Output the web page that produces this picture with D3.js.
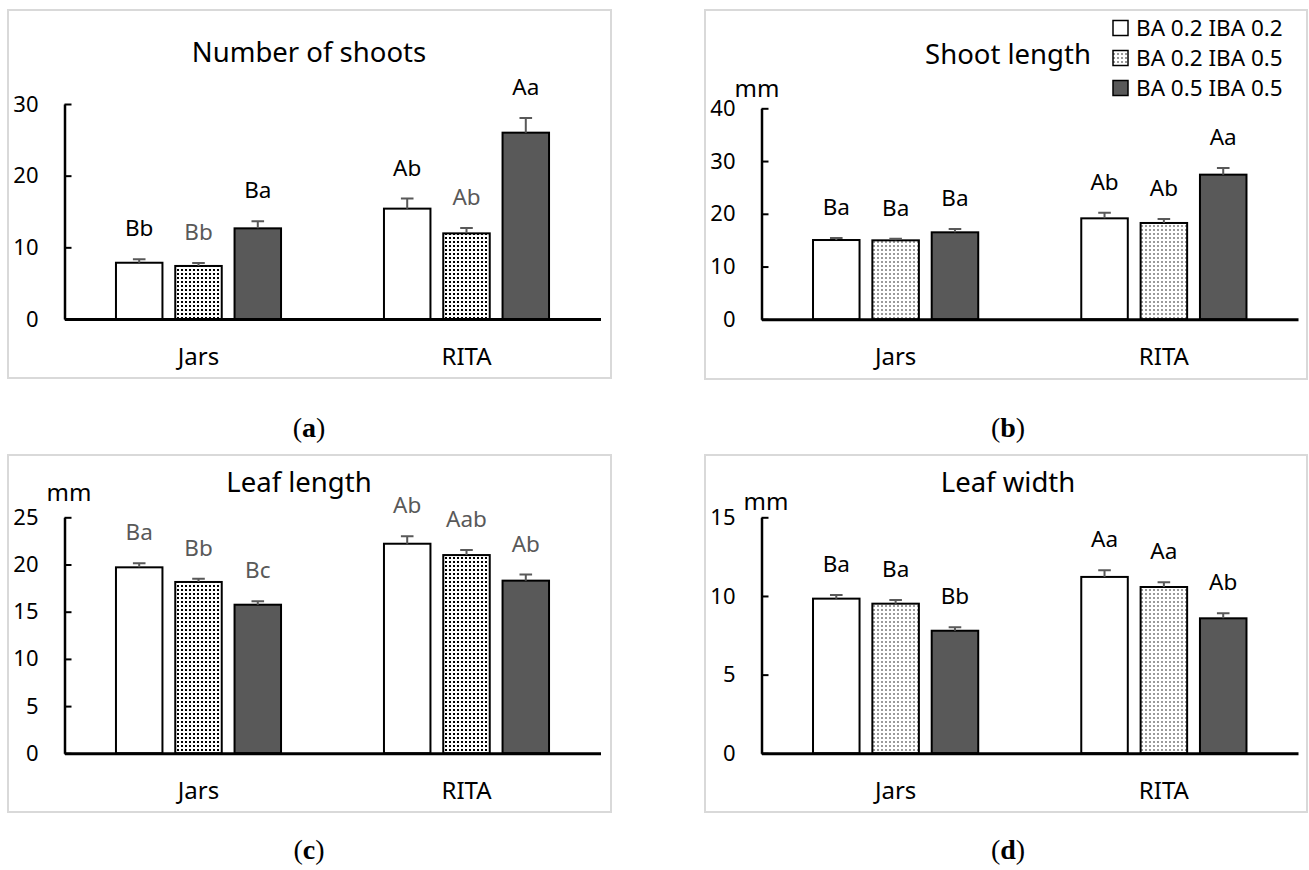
<!DOCTYPE html>
<html>
<head>
<meta charset="utf-8">
<script src="https://cdn.jsdelivr.net/npm/d3@7"></script>
<style>
  body { margin: 0; background: #fff; }
  svg { display: block; font-family: 'Noto Sans', sans-serif; }
</style>
</head>
<body>
<svg id="chart" width="1309" height="870"></svg>
<script>
// categories
const sites = ["Jars", "RITA"];
const treatments = ["BA 0.2 IBA 0.2", "BA 0.2 IBA 0.5", "BA 0.5 IBA 0.5"];

// (a) number of shoots  [site][treatment]
const shootNumMean = [[7.85, 7.4, 12.65], [15.4, 11.95, 26.0]];
const shootNumErr = [[0.5, 0.4, 0.98], [1.4, 0.75, 2.05]];
const shootNumLetters = [["Bb", "Bb", "Ba"], ["Ab", "Ab", "Aa"]];
const shootNumTicks = [0, 10, 20, 30];

// (b) shoot length, mm
const shootLenMean = [[15.03, 14.97, 16.49], [19.14, 18.26, 27.42]];
const shootLenErr = [[0.38, 0.32, 0.63], [1.08, 0.76, 1.26]];
const shootLenLetters = [["Ba", "Ba", "Ba"], ["Ab", "Ab", "Aa"]];
const shootLenTicks = [0, 10, 20, 30, 40];

// (c) leaf length, mm
const leafLenMean = [[19.7, 18.15, 15.74], [22.2, 21.0, 18.29]];
const leafLenErr = [[0.42, 0.35, 0.36], [0.78, 0.53, 0.64]];
const leafLenLetters = [["Ba", "Bb", "Bc"], ["Ab", "Aab", "Ab"]];
const leafLenTicks = [0, 5, 10, 15, 20, 25];

// (d) leaf width, mm
const leafWidMean = [[9.83, 9.51, 7.79], [11.21, 10.57, 8.58]];
const leafWidErr = [[0.23, 0.24, 0.22], [0.42, 0.3, 0.32]];
const leafWidLetters = [["Ba", "Ba", "Bb"], ["Aa", "Aa", "Ab"]];
const leafWidTicks = [0, 5, 10, 15];

const GRAY = "#595959";

const svg = d3.select("#chart");
const defs = svg.append("defs");

// coarse black dots (a, c) and fine grey dots (b, d)
function dotPattern(id, size, dot, color) {
  const p = defs.append("pattern")
    .attr("id", id)
    .attr("patternUnits", "userSpaceOnUse")
    .attr("width", size).attr("height", size);
  p.append("rect").attr("width", size).attr("height", size).attr("fill", "#fff");
  p.append("rect").attr("x", 1).attr("y", 1)
    .attr("width", dot).attr("height", dot).attr("fill", color);
}
dotPattern("dotsDark", 4, 2, "#000");
dotPattern("dotsLight", 4, 2, "#9a9a9a");

const panels = [
  { tag: "a", title: "Number of shoots", mean: shootNumMean, err: shootNumErr, letters: shootNumLetters,
    ticks: shootNumTicks, max: 30, box: [8, 10, 603, 368], left: 64.5, right: 600.5, top: 104, zero: 319,
    titleXY: [309, 62], mm: null, pattern: "dotsDark", caption: [309, 437],
    letterFill: (i, j) => j === 1 ? GRAY : "#000" },
  { tag: "b", title: "Shoot length", mean: shootLenMean, err: shootLenErr, letters: shootLenLetters,
    ticks: shootLenTicks, max: 40, box: [705, 10, 602, 369], left: 761.5, right: 1298, top: 108.3, zero: 319.3,
    titleXY: [1008, 64], mm: [757, 96.5], pattern: "dotsLight", caption: [1008, 437],
    letterFill: () => "#000" },
  { tag: "c", title: "Leaf length", mean: leafLenMean, err: leafLenErr, letters: leafLenLetters,
    ticks: leafLenTicks, max: 25, box: [8, 455, 603, 357], left: 64.5, right: 600.5, top: 517.3, zero: 753.3,
    titleXY: [299, 492], mm: [69, 500.5], pattern: "dotsDark", caption: [309, 859],
    letterFill: () => GRAY },
  { tag: "d", title: "Leaf width", mean: leafWidMean, err: leafWidErr, letters: leafWidLetters,
    ticks: leafWidTicks, max: 15, box: [705, 455, 602, 357], left: 761.5, right: 1298, top: 517.3, zero: 753.3,
    titleXY: [1008, 492], mm: [766, 510], pattern: "dotsLight", caption: [1008, 859],
    letterFill: () => "#000" }
];

panels.forEach(p => {
  const g = svg.append("g");
  const fills = ["#fff", `url(#${p.pattern})`, GRAY];

  g.append("rect")
    .attr("x", p.box[0]).attr("y", p.box[1])
    .attr("width", p.box[2]).attr("height", p.box[3])
    .attr("fill", "none").attr("stroke", "#d9d9d9").attr("stroke-width", 2);

  const x0 = d3.scaleBand().domain(sites).range([p.left, p.right]);
  const x1 = d3.scaleBand().domain(treatments).range([0, x0.bandwidth()])
    .paddingInner(0.216).paddingOuter(0.868);
  const y = d3.scaleLinear().domain([0, p.max]).range([p.zero, p.top]);

  const rows = sites.flatMap((s, i) => treatments.map((t, j) => ({
    s, t, i, j, m: p.mean[i][j], e: p.err[i][j], l: p.letters[i][j]
  })));
  const cx = d => x0(d.s) + x1(d.t) + x1.bandwidth() / 2;

  g.selectAll(".bar").data(rows).enter().append("rect")
    .attr("x", d => x0(d.s) + x1(d.t))
    .attr("y", d => y(d.m))
    .attr("width", x1.bandwidth())
    .attr("height", d => y(0) - y(d.m))
    .attr("fill", d => fills[d.j])
    .attr("stroke", "#000").attr("stroke-width", 2);

  // error bars, upward only
  g.selectAll(".err").data(rows).enter().append("path")
    .attr("d", d => `M${cx(d)},${y(d.m)}V${y(d.m + d.e)}M${cx(d) - 6.3},${y(d.m + d.e)}H${cx(d) + 6.3}`)
    .attr("fill", "none").attr("stroke", GRAY).attr("stroke-width", 2);

  g.selectAll(".lab").data(rows).enter().append("text")
    .attr("x", cx)
    .attr("y", d => y(d.m + d.e) - 23)
    .attr("text-anchor", "middle")
    .attr("font-size", 22.5)
    .attr("fill", d => p.letterFill(d.i, d.j))
    .text(d => d.l);

  const ya = g.append("g").attr("transform", `translate(${p.left},0)`)
    .call(d3.axisLeft(y).tickValues(p.ticks).tickSizeInner(-7).tickSizeOuter(0).tickPadding(26));
  ya.attr("font-family", null).attr("font-size", 22);
  ya.select(".domain").attr("stroke", "#000").attr("stroke-width", 2.5);
  ya.selectAll(".tick line").attr("stroke", "#000").attr("stroke-width", 2);
  ya.selectAll(".tick text").attr("fill", "#000");

  const xa = g.append("g").attr("transform", `translate(0,${p.zero})`)
    .call(d3.axisBottom(x0).tickSize(0).tickSizeOuter(0).tickPadding(29));
  xa.attr("font-family", null).attr("font-size", 24);
  xa.select(".domain").attr("stroke", "#000").attr("stroke-width", 3);
  xa.selectAll(".tick text").attr("fill", "#000");

  g.append("text")
    .attr("x", p.titleXY[0]).attr("y", p.titleXY[1])
    .attr("text-anchor", "middle").attr("font-size", 27.5)
    .text(p.title);

  if (p.mm) {
    g.append("text")
      .attr("x", p.mm[0]).attr("y", p.mm[1])
      .attr("text-anchor", "middle").attr("font-size", 24)
      .text("mm");
  }

  const cap = svg.append("text")
    .attr("x", p.caption[0]).attr("y", p.caption[1])
    .attr("text-anchor", "middle")
    .attr("font-family", "'Liberation Serif', serif")
    .attr("font-size", 28);
  cap.append("tspan").text("(");
  cap.append("tspan").attr("font-weight", "bold").text(p.tag);
  cap.append("tspan").text(")");
});

// legend inside panel (b)
const legendFills = ["#fff", "url(#dotsLight)", GRAY];
const lg = svg.append("g");
const rowY = d3.scalePoint().domain(treatments).range([28, 88]);
lg.selectAll("rect").data(treatments).enter().append("rect")
  .attr("x", 1113).attr("y", d => rowY(d) - 7.5)
  .attr("width", 15).attr("height", 15)
  .attr("fill", (d, i) => legendFills[i])
  .attr("stroke", "#000").attr("stroke-width", 1.5);
lg.selectAll("text").data(treatments).enter().append("text")
  .attr("x", 1136).attr("y", d => rowY(d) + 8)
  .attr("font-size", 22.5)
  .text(d => d);
</script>
</body>
</html>
